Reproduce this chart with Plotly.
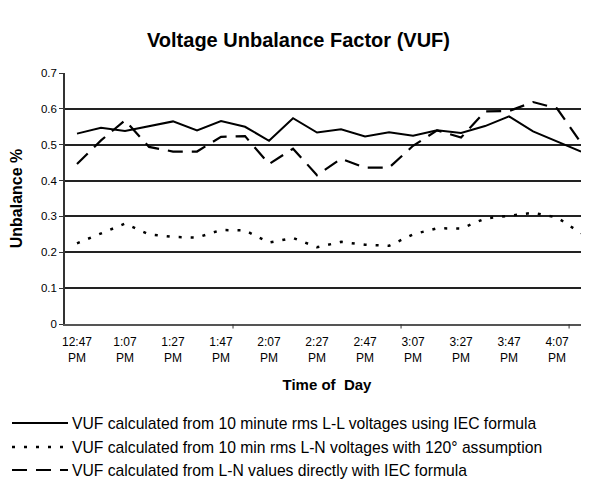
import plotly.graph_objects as go

times = ["12:47 PM", "12:57 PM", "1:07 PM", "1:17 PM", "1:27 PM", "1:37 PM",
         "1:47 PM", "1:57 PM", "2:07 PM", "2:17 PM", "2:27 PM", "2:37 PM",
         "2:47 PM", "2:57 PM", "3:07 PM", "3:17 PM", "3:27 PM", "3:37 PM",
         "3:47 PM", "3:57 PM", "4:07 PM", "4:17 PM"]

vuf_ll_iec = [0.531, 0.547, 0.538, 0.552, 0.565, 0.540, 0.566, 0.550, 0.511, 0.574,
              0.534, 0.543, 0.523, 0.535, 0.525, 0.540, 0.533, 0.552, 0.579, 0.537,
              0.509, 0.481]
vuf_ln_120 = [0.225, 0.253, 0.280, 0.250, 0.243, 0.241, 0.262, 0.261, 0.227, 0.240,
              0.214, 0.229, 0.221, 0.218, 0.250, 0.267, 0.266, 0.294, 0.301, 0.310,
              0.297, 0.253]
vuf_ln_iec = [0.446, 0.512, 0.568, 0.494, 0.481, 0.481, 0.522, 0.524, 0.446, 0.489,
              0.415, 0.461, 0.436, 0.436, 0.497, 0.540, 0.520, 0.593, 0.594, 0.619,
              0.601, 0.505]

tick_times = times[::2]
tick_text = [t.replace(" ", "<br>") for t in tick_times]

series_names = [
    "VUF calculated from 10 minute rms L-L voltages using IEC formula",
    "VUF calculated from 10 min rms L-N voltages with 120\u00b0 assumption",
    "VUF calculated from L-N values directly with IEC formula",
]

FONT = "Liberation Sans, Arial, sans-serif"

# the page body has an 8px default margin; size the figure to fill the rest
OFF = 8
W, H = 589 - OFF, 488 - OFF
L, T, PH = 65 - OFF, 73 - OFF, 251
PW = W - L
B = H - T - PH

fig = go.Figure()
fig.add_trace(go.Scatter(x=times, y=vuf_ll_iec, mode="lines", name=series_names[0],
                         line=dict(color="black", width=2)))
fig.add_trace(go.Scatter(x=times, y=vuf_ln_120, mode="lines", name=series_names[1],
                         line=dict(color="black", width=2.5, dash="3px,9px")))
fig.add_trace(go.Scatter(x=times, y=vuf_ln_iec, mode="lines", name=series_names[2],
                         line=dict(color="black", width=2.2, dash="15px,9px")))

fig.update_layout(
    width=W, height=H,
    margin=dict(l=L, r=0, t=T, b=B),
    paper_bgcolor="white", plot_bgcolor="white",
    showlegend=False,
    font=dict(family=FONT, color="black", size=12),
    title=dict(text="<b>Voltage Unbalance Factor (VUF)</b>", x=0.5, xanchor="center",
               y=1 - (40 - OFF) / H, yanchor="middle", yref="container",
               font=dict(size=20, family=FONT)),
)

fig.update_yaxes(
    range=[0, 0.7], tickvals=[0, 0.1, 0.2, 0.3, 0.4, 0.5, 0.6, 0.7],
    ticktext=["0", "0.1", "0.2", "0.3", "0.4", "0.5", "0.6", "0.7"],
    showgrid=True, gridcolor="#222", gridwidth=1.5,
    showline=True, linecolor="#333", linewidth=1.5,
    ticks="outside", ticklen=4, tickcolor="#333",
    zeroline=False,
    tickfont=dict(size=11.5),
    title=dict(text="<b>Unbalance %</b>", font=dict(size=16), standoff=14),
)
fig.update_xaxes(
    type="category", categoryorder="array", categoryarray=times,
    range=[-0.5, 21.33],
    tickvals=tick_times, ticktext=tick_text,
    showgrid=False, showline=True, linecolor="#555", linewidth=1.5,
    ticks="", tickfont=dict(size=12), ticklabelstandoff=6,
    title=dict(text="<b>Time of\u00a0 Day</b>", font=dict(size=15), standoff=16),
)

# Excel-style tick marks on the category axis (every 7 categories, at boundaries)
for b in [6.5, 13.5, 20.5]:
    fig.add_shape(type="line", xref="x", yref="paper", x0=b, x1=b, y0=0, y1=-0.018,
                  line=dict(color="#333", width=1))

# Custom legend below the chart
legend_rows = [(423, "solid", 2), (447, "3px,9px", 2.5), (470, "15px,9px", 2.2)]
for (ypx, dash, w), name in zip(legend_rows, series_names):
    yf = ypx - OFF
    yp = (H - yf - B) / PH
    fig.add_shape(type="line", xref="paper", yref="paper",
                  x0=(12 - OFF - L) / PW, x1=(68 - OFF - L) / PW,
                  y0=yp, y1=yp,
                  line=dict(color="black", width=w, dash=dash))
    fig.add_annotation(text=name, xref="paper", yref="paper",
                       x=(70 - OFF - L) / PW, y=yp,
                       xanchor="left", yanchor="middle", showarrow=False,
                       font=dict(size=15.7, family=FONT))

fig.write_html("out.html")
